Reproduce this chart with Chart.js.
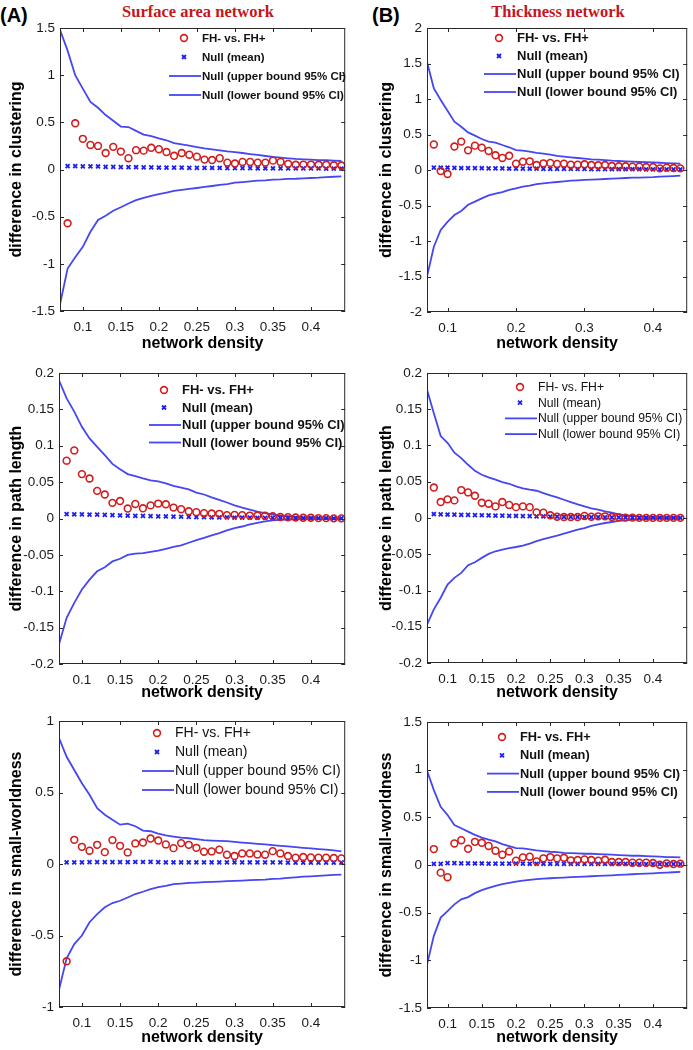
<!DOCTYPE html>
<html lang="en">
<head>
<meta charset="UTF-8" />
<title>Network metric differences vs. density</title>
<script src="https://cdn.jsdelivr.net/npm/chart.js"></script>
<style>
  body { margin: 0; background: #fff; }
  #fig { position: relative; width: 693px; height: 1050px; overflow: hidden; background: #fff; }
  .cv { position: absolute; }
  .tag { position: absolute; top: 3px; font: bold 20px "Liberation Sans", Arial, sans-serif; line-height: 24px; color: #000; }
  .head { position: absolute; top: 0; width: 220px; text-align: center; font: bold 16.5px "Liberation Serif", serif; line-height: 24px; color: #c4161c; }
</style>
</head>
<body>
<div id="fig">
  <div class="tag" style="left:0">(A)</div>
  <div class="tag" style="left:372px">(B)</div>
  <div class="head" style="left:88px">Surface area network</div>
  <div class="head" style="left:448px">Thickness network</div>
</div>
<script>
// x values (network density); index 0 (0.07) only carries the CI lines
const density = [0.07, 0.08, 0.09, 0.10, 0.11, 0.12, 0.13, 0.14, 0.15, 0.16, 0.17, 0.18, 0.19, 0.20, 0.21, 0.22, 0.23, 0.24, 0.25,
  0.26, 0.27, 0.28, 0.29, 0.30, 0.31, 0.32, 0.33, 0.34, 0.35, 0.36, 0.37, 0.38, 0.39, 0.40, 0.41, 0.42, 0.43, 0.44];

const seriesLabels = ['FH- vs. FH+', 'Null (mean)', 'Null (upper bound 95% CI)', 'Null (lower bound 95% CI)'];

const xTicksFine = [0.1, 0.15, 0.2, 0.25, 0.3, 0.35, 0.4];
const xTicksCoarse = [0.1, 0.2, 0.3, 0.4];
const yTicksClustSA = [-1.5, -1, -0.5, 0, 0.5, 1, 1.5];
const yTicksClustTh = [-2, -1.5, -1, -0.5, 0, 0.5, 1, 1.5, 2];
const yTicksPath = [-0.2, -0.15, -0.1, -0.05, 0, 0.05, 0.1, 0.15, 0.2];
const yTicksSwSA = [-1, -0.5, 0, 0.5, 1];
const yTicksSwTh = [-1.5, -1, -0.5, 0, 0.5, 1, 1.5];

// (A) surface area - clustering
const fhClustSA = [null, -0.57, 0.49, 0.325, 0.26, 0.25, 0.175, 0.24, 0.19, 0.12, 0.205, 0.2, 0.23, 0.215, 0.185, 0.145, 0.175, 0.157, 0.136,
  0.105, 0.1, 0.12, 0.073, 0.063, 0.08, 0.08, 0.073, 0.073, 0.094, 0.08, 0.06, 0.05, 0.052, 0.052, 0.05, 0.05, 0.045, 0.042];
const meanClustSA = [null, 0.035, 0.035, 0.034, 0.033, 0.032, 0.028, 0.027, 0.026, 0.025, 0.024, 0.023, 0.022, 0.021, 0.02, 0.02, 0.019, 0.018, 0.018,
  0.017, 0.016, 0.016, 0.015, 0.015, 0.014, 0.014, 0.013, 0.013, 0.013, 0.012, 0.012, 0.012, 0.011, 0.011, 0.011, 0.01, 0.01, 0.01];
const upClustSA = [1.48, 1.26, 1.0, 0.857, 0.717, 0.654, 0.577, 0.517, 0.455, 0.45, 0.41, 0.37, 0.353, 0.33, 0.31, 0.28, 0.266, 0.252, 0.238,
  0.224, 0.213, 0.203, 0.192, 0.185, 0.175, 0.164, 0.154, 0.143, 0.133, 0.126, 0.119, 0.112, 0.108, 0.105, 0.1, 0.098, 0.094, 0.09];
const loClustSA = [-1.43, -1.05, -0.93, -0.82, -0.66, -0.535, -0.49, -0.437, -0.4, -0.36, -0.325, -0.3, -0.28, -0.262, -0.245, -0.227, -0.217, -0.206, -0.196,
  -0.185, -0.175, -0.164, -0.154, -0.14, -0.133, -0.126, -0.119, -0.115, -0.108, -0.105, -0.1, -0.098, -0.094, -0.09, -0.087, -0.08, -0.077, -0.073];

// (B) thickness - clustering
const fhClustTh = [null, 0.36, -0.015, -0.056, 0.33, 0.4, 0.277, 0.343, 0.315, 0.268, 0.207, 0.17, 0.2, 0.09, 0.117, 0.122, 0.07, 0.094, 0.1,
  0.085, 0.09, 0.075, 0.075, 0.08, 0.07, 0.066, 0.07, 0.056, 0.052, 0.052, 0.047, 0.047, 0.042, 0.042, 0.023, 0.033, 0.028, 0.023];
const meanClustTh = [null, 0.033, 0.033, 0.035, 0.03, 0.028, 0.027, 0.026, 0.025, 0.024, 0.023, 0.022, 0.021, 0.02, 0.019, 0.018, 0.018, 0.017, 0.016,
  0.016, 0.015, 0.015, 0.014, 0.014, 0.013, 0.013, 0.012, 0.012, 0.012, 0.011, 0.011, 0.011, 0.01, 0.01, 0.01, 0.01, 0.009, 0.009];
const upClustTh = [1.52, 1.15, 0.986, 0.836, 0.68, 0.61, 0.53, 0.484, 0.437, 0.4, 0.385, 0.352, 0.32, 0.28, 0.272, 0.258, 0.24, 0.23, 0.216,
  0.2, 0.188, 0.178, 0.169, 0.16, 0.15, 0.145, 0.14, 0.131, 0.127, 0.122, 0.117, 0.113, 0.11, 0.106, 0.102, 0.098, 0.094, 0.09];
const loClustTh = [-1.5, -1.08, -0.845, -0.73, -0.634, -0.577, -0.49, -0.446, -0.4, -0.357, -0.333, -0.31, -0.28, -0.258, -0.235, -0.22, -0.2, -0.188, -0.178,
  -0.169, -0.16, -0.15, -0.146, -0.14, -0.136, -0.131, -0.127, -0.122, -0.117, -0.113, -0.108, -0.106, -0.103, -0.1, -0.094, -0.09, -0.085, -0.08];

// (A) surface area - path length
const fhPathSA = [null, 0.0795, 0.0936, 0.061, 0.055, 0.038, 0.033, 0.0215, 0.024, 0.0137, 0.02, 0.014, 0.018, 0.0205, 0.0196, 0.015, 0.0128, 0.01, 0.0087,
  0.0073, 0.0068, 0.0064, 0.0046, 0.005, 0.0046, 0.004, 0.004, 0.0037, 0.003, 0.002, 0.0018, 0.0014, 0.001, 0.001, 0.0005, 0.0005, 0.0002, 0.0002];
const meanPathSA = [null, 0.006, 0.0058, 0.0056, 0.0054, 0.0052, 0.005, 0.0046, 0.0043, 0.004, 0.0037, 0.0035, 0.0032, 0.003, 0.0028, 0.0026, 0.0024, 0.0022, 0.002,
  0.0018, 0.0017, 0.0015, 0.0014, 0.0013, 0.0012, 0.0011, 0.001, 0.0009, 0.0008, 0.0007, 0.0006, 0.0006, 0.0005, 0.0005, 0.0004, 0.0004, 0.0003, 0.0003];
const upPathSA = [0.19, 0.165, 0.147, 0.126, 0.11, 0.0986, 0.087, 0.075, 0.0676, 0.061, 0.0584, 0.0553, 0.0525, 0.051, 0.0484, 0.045, 0.0425, 0.04, 0.0356,
  0.033, 0.029, 0.0256, 0.022, 0.018, 0.015, 0.0123, 0.0096, 0.0073, 0.0055, 0.004, 0.0032, 0.0023, 0.0014, 0.001, 0.0005, 0.0005, 0.0004, 0.0004];
const loPathSA = [-0.173, -0.1365, -0.116, -0.0977, -0.084, -0.0726, -0.067, -0.059, -0.0553, -0.05, -0.0484, -0.0475, -0.046, -0.0443, -0.0416, -0.039, -0.037, -0.0333, -0.0297,
  -0.0265, -0.0233, -0.02, -0.0164, -0.0132, -0.011, -0.0082, -0.006, -0.0041, -0.0027, -0.0018, -0.0014, -0.0009, -0.0006, -0.0005, -0.0005, -0.0004, -0.0004, -0.0004];

// (B) thickness - path length
const fhPathTh = [null, 0.042, 0.022, 0.0257, 0.0243, 0.0385, 0.0353, 0.0307, 0.021, 0.0197, 0.016, 0.022, 0.018, 0.015, 0.016, 0.015, 0.0078, 0.0073, 0.0037,
  0.0018, 0.0014, 0.0014, 0.0014, 0.0028, 0.0018, 0.0023, 0.0023, 0.0014, 0.001, 0.0005, 0.0005, 0.0002, 0.0002, 0.0002, 0.0002, 0.0002, 0.0002, 0.0002];
const meanPathTh = [null, 0.0055, 0.005, 0.0048, 0.0046, 0.0044, 0.0042, 0.004, 0.0038, 0.0036, 0.0034, 0.0032, 0.003, 0.0028, 0.0026, 0.0025, 0.0023, 0.0022, 0.002,
  0.0018, 0.0017, 0.0015, 0.0014, 0.0013, 0.0012, 0.0011, 0.001, 0.0009, 0.0008, 0.0007, 0.0006, 0.0005, 0.0005, 0.0004, 0.0004, 0.0003, 0.0003, 0.0002];
const upPathTh = [0.177, 0.1445, 0.113, 0.1037, 0.09, 0.0826, 0.0734, 0.065, 0.0596, 0.056, 0.0528, 0.0495, 0.0472, 0.0436, 0.0408, 0.039, 0.0376, 0.0344, 0.0312,
  0.0284, 0.0252, 0.022, 0.0188, 0.016, 0.0133, 0.0115, 0.0092, 0.0073, 0.005, 0.0037, 0.0028, 0.0018, 0.0014, 0.001, 0.0008, 0.0008, 0.0007, 0.0007];
const loPathTh = [-0.147, -0.126, -0.11, -0.0917, -0.0826, -0.0757, -0.065, -0.061, -0.055, -0.0495, -0.0459, -0.0436, -0.0417, -0.04, -0.038, -0.0353, -0.032, -0.029, -0.0266,
  -0.0243, -0.0216, -0.0188, -0.016, -0.0138, -0.011, -0.0087, -0.0069, -0.0055, -0.0041, -0.0032, -0.0023, -0.0018, -0.0014, -0.0009, -0.0009, -0.0008, -0.0008, -0.0007];

// (A) surface area - small-worldness
const fhSwSA = [null, -0.68, 0.169, 0.12, 0.093, 0.134, 0.083, 0.167, 0.127, 0.081, 0.144, 0.15, 0.178, 0.164, 0.137, 0.111, 0.146, 0.134, 0.113,
  0.086, 0.088, 0.1, 0.065, 0.056, 0.074, 0.074, 0.067, 0.065, 0.09, 0.074, 0.056, 0.044, 0.049, 0.046, 0.044, 0.044, 0.042, 0.039];
const meanSwSA = [null, 0.012, 0.012, 0.012, 0.013, 0.013, 0.013, 0.013, 0.013, 0.013, 0.014, 0.014, 0.015, 0.013, 0.012, 0.012, 0.012, 0.012, 0.012,
  0.012, 0.012, 0.012, 0.011, 0.011, 0.011, 0.011, 0.011, 0.011, 0.011, 0.011, 0.01, 0.01, 0.01, 0.01, 0.01, 0.01, 0.01, 0.01];
const upSwSA = [0.88, 0.75, 0.657, 0.565, 0.484, 0.39, 0.345, 0.31, 0.275, 0.282, 0.264, 0.234, 0.229, 0.213, 0.2, 0.192, 0.185, 0.18, 0.174,
  0.167, 0.164, 0.162, 0.16, 0.155, 0.15, 0.146, 0.141, 0.137, 0.132, 0.127, 0.123, 0.118, 0.113, 0.109, 0.104, 0.1, 0.095, 0.088];
const loSwSA = [-0.88, -0.66, -0.56, -0.5, -0.407, -0.35, -0.303, -0.273, -0.257, -0.234, -0.21, -0.194, -0.176, -0.162, -0.153, -0.141, -0.137, -0.132, -0.13,
  -0.127, -0.125, -0.123, -0.12, -0.118, -0.116, -0.113, -0.111, -0.109, -0.104, -0.102, -0.097, -0.093, -0.088, -0.086, -0.083, -0.079, -0.076, -0.074];

// (B) thickness - small-worldness
const fhSwTh = [null, 0.167, -0.08, -0.128, 0.226, 0.26, 0.17, 0.243, 0.233, 0.2, 0.15, 0.108, 0.142, 0.045, 0.08, 0.087, 0.038, 0.07, 0.083,
  0.07, 0.076, 0.049, 0.052, 0.059, 0.052, 0.045, 0.055, 0.031, 0.031, 0.031, 0.024, 0.024, 0.024, 0.021, 0.003, 0.017, 0.01, 0.014];
const meanSwTh = [null, 0.012, 0.012, 0.02, 0.02, 0.018, 0.017, 0.016, 0.016, 0.015, 0.015, 0.015, 0.014, 0.014, 0.014, 0.013, 0.013, 0.013, 0.013,
  0.012, 0.012, 0.012, 0.012, 0.012, 0.011, 0.011, 0.011, 0.011, 0.011, 0.011, 0.01, 0.01, 0.01, 0.01, 0.01, 0.01, 0.01, 0.01];
const upSwTh = [0.99, 0.785, 0.61, 0.524, 0.42, 0.385, 0.35, 0.316, 0.288, 0.267, 0.247, 0.219, 0.198, 0.177, 0.174, 0.163, 0.153, 0.146, 0.139,
  0.135, 0.128, 0.125, 0.122, 0.118, 0.118, 0.115, 0.111, 0.108, 0.104, 0.1, 0.097, 0.097, 0.094, 0.09, 0.087, 0.083, 0.083, 0.08];
const loSwTh = [-1.045, -0.743, -0.552, -0.483, -0.413, -0.36, -0.337, -0.295, -0.264, -0.24, -0.219, -0.2, -0.187, -0.174, -0.163, -0.156, -0.149, -0.142, -0.139,
  -0.135, -0.132, -0.128, -0.125, -0.122, -0.118, -0.115, -0.111, -0.108, -0.104, -0.1, -0.097, -0.094, -0.09, -0.087, -0.083, -0.08, -0.076, -0.073];

const RED = '#d21d1d';
const LINE_BLUE = '#4646f2';
const MARK_BLUE = '#1e1ef0';
const FONT = '"Liberation Sans", Arial, sans-serif';

// canvas boxes and plot-area insets (px) for each panel
const panels = [
  { box: [0, 0, 351, 353], inset: { left: 60, top: 28, right: 2, bottom: 42 }, xMax: 0.445, xTitlePad: 0.4, yTitlePad: 7,
    fh: fhClustSA, mean: meanClustSA, up: upClustSA, lo: loClustSA, xTicks: xTicksFine, yTicks: yTicksClustSA,
    yTitle: 'difference in clustering', legend: { x: 142, y: 10, dy: 19, size: 11.5, bold: true } },
  { box: [351, 0, 342, 353], inset: { left: 76, top: 28, right: 1, bottom: 41 }, xMax: 0.45, xTitlePad: 0.4, yTitlePad: 26,
    fh: fhClustTh, mean: meanClustTh, up: upClustTh, lo: loClustTh, xTicks: xTicksCoarse, yTicks: yTicksClustTh,
    yTitle: 'difference in clustering', legend: { x: 90, y: 10, dy: 18, size: 13, bold: true } },
  { box: [0, 353, 351, 349], inset: { left: 59, top: 20, right: 2, bottom: 38 }, xMax: 0.445, xTitlePad: 2.4, yTitlePad: 7,
    fh: fhPathSA, mean: meanPathSA, up: upPathSA, lo: loPathSA, xTicks: xTicksFine, yTicks: yTicksPath,
    yTitle: 'difference in path length', legend: { x: 123, y: 17, dy: 17.5, size: 13, bold: true } },
  { box: [351, 353, 342, 349], inset: { left: 76, top: 20, right: 1, bottom: 39 }, xMax: 0.45, xTitlePad: 2.4, yTitlePad: 26,
    fh: fhPathTh, mean: meanPathTh, up: upPathTh, lo: loPathTh, xTicks: xTicksFine, yTicks: yTicksPath,
    yTitle: 'difference in path length', legend: { x: 111, y: 14, dy: 15.7, size: 12.2, bold: false } },
  { box: [0, 702, 351, 345], inset: { left: 59, top: 19, right: 2, bottom: 40 }, xMax: 0.445, xTitlePad: 2.4, yTitlePad: 7,
    fh: fhSwSA, mean: meanSwSA, up: upSwSA, lo: loSwSA, xTicks: xTicksFine, yTicks: yTicksSwSA,
    yTitle: 'difference in small-worldness', legend: { x: 116, y: 12, dy: 19, size: 14, bold: false } },
  { box: [351, 702, 342, 345], inset: { left: 76, top: 20, right: 1, bottom: 39 }, xMax: 0.45, xTitlePad: 2.4, yTitlePad: 26,
    fh: fhSwTh, mean: meanSwTh, up: upSwTh, lo: loSwTh, xTicks: xTicksFine, yTicks: yTicksSwTh,
    yTitle: 'difference in small-worldness', legend: { x: 93, y: 15, dy: 18.3, size: 12.8, bold: true } },
];

const pts = arr => density.map((d, i) => ({ x: d, y: arr[i] }));

// MATLAB-style box, inward ticks on all sides, and the in-axes legend
const axesPlugin = {
  id: 'matlabAxes',
  afterDatasetsDraw(chart) {
    const { ctx, chartArea: { left, top, right, bottom }, scales: { x, y } } = chart;
    const p = chart.options.plugins.matlabAxes;
    ctx.save();
    ctx.strokeStyle = '#2a2a2a';
    ctx.lineWidth = 1;
    ctx.strokeRect(left + 0.5, top + 0.5, right - left - 1, bottom - top - 1);
    ctx.beginPath();
    p.xTicks.forEach(v => {
      const px = Math.round(x.getPixelForValue(v)) + 0.5;
      ctx.moveTo(px, bottom); ctx.lineTo(px, bottom - 4);
      ctx.moveTo(px, top); ctx.lineTo(px, top + 4);
    });
    p.yTicks.forEach(v => {
      const py = Math.round(y.getPixelForValue(v)) + 0.5;
      ctx.moveTo(left, py); ctx.lineTo(left + 4, py);
      ctx.moveTo(right, py); ctx.lineTo(right - 4, py);
    });
    ctx.stroke();

    const lg = p.legend;
    const tx = left + lg.x;
    ctx.font = (lg.bold ? 'bold ' : '') + lg.size + 'px ' + FONT;
    ctx.textBaseline = 'middle';
    ctx.textAlign = 'left';
    seriesLabels.forEach((label, i) => {
      const ly = top + lg.y + i * lg.dy;
      if (i === 0) {
        ctx.strokeStyle = RED; ctx.lineWidth = 1.6;
        ctx.beginPath(); ctx.arc(tx - 18, ly, 3.4, 0, Math.PI * 2); ctx.stroke();
      } else if (i === 1) {
        ctx.strokeStyle = MARK_BLUE; ctx.lineWidth = 1.8;
        ctx.beginPath();
        ctx.moveTo(tx - 20, ly - 2); ctx.lineTo(tx - 16, ly + 2);
        ctx.moveTo(tx - 20, ly + 2); ctx.lineTo(tx - 16, ly - 2);
        ctx.stroke();
      } else {
        ctx.strokeStyle = LINE_BLUE; ctx.lineWidth = 1.8;
        ctx.beginPath(); ctx.moveTo(tx - 33, ly); ctx.lineTo(tx - 1, ly); ctx.stroke();
      }
      ctx.fillStyle = '#111';
      ctx.fillText(label, tx, ly + 0.5);
    });
    ctx.restore();
  }
};

const fig = document.getElementById('fig');

panels.forEach(p => {
  const [bx, by, bw, bh] = p.box;
  const canvas = document.createElement('canvas');
  canvas.className = 'cv';
  canvas.width = bw;
  canvas.height = bh;
  canvas.style.left = bx + 'px';
  canvas.style.top = by + 'px';
  fig.appendChild(canvas);

  new Chart(canvas.getContext('2d'), {
    type: 'line',
    data: {
      datasets: [
        { label: seriesLabels[0], data: pts(p.fh), showLine: false, pointStyle: 'circle', pointRadius: 3.4,
          pointBorderWidth: 1.6, pointBorderColor: RED, pointBackgroundColor: 'rgba(0,0,0,0)', borderColor: RED },
        { label: seriesLabels[1], data: pts(p.mean), showLine: false, pointStyle: 'crossRot', pointRadius: 2.8,
          pointBorderWidth: 1.8, pointBorderColor: MARK_BLUE, borderColor: MARK_BLUE },
        { label: seriesLabels[2], data: pts(p.up), borderColor: LINE_BLUE, borderWidth: 1.8, pointRadius: 0, tension: 0, fill: false },
        { label: seriesLabels[3], data: pts(p.lo), borderColor: LINE_BLUE, borderWidth: 1.8, pointRadius: 0, tension: 0, fill: false },
      ]
    },
    options: {
      responsive: false,
      animation: false,
      events: [],
      layout: { padding: { left: 0, top: p.inset.top, right: p.inset.right, bottom: 0 } },
      scales: {
        x: {
          type: 'linear', min: 0.07, max: p.xMax,
          grid: { display: false, drawTicks: false },
          border: { display: false },
          afterBuildTicks: s => { s.ticks = p.xTicks.map(v => ({ value: v })); },
          afterFit: s => { s.height = p.inset.bottom; },
          ticks: { autoSkip: false, maxRotation: 0, padding: 8, color: '#1a1a1a',
            font: { family: FONT, size: 13.5 }, callback: v => String(v) },
          title: { display: true, text: 'network density', color: '#000',
            font: { family: FONT, size: 16, weight: 'bold' }, padding: { top: p.xTitlePad, bottom: 0 } }
        },
        y: {
          type: 'linear', min: p.yTicks[0], max: p.yTicks[p.yTicks.length - 1],
          grid: { display: false, drawTicks: false },
          border: { display: false },
          afterBuildTicks: s => { s.ticks = p.yTicks.map(v => ({ value: v })); },
          afterFit: s => { s.width = p.inset.left; },
          ticks: { autoSkip: false, padding: 5, color: '#1a1a1a',
            font: { family: FONT, size: 13.5 }, callback: v => String(v) },
          title: { display: true, text: p.yTitle, color: '#000',
            font: { family: FONT, size: 16, weight: 'bold' }, padding: { top: p.yTitlePad, bottom: 0 } }
        }
      },
      plugins: {
        legend: { display: false },
        tooltip: { enabled: false },
        matlabAxes: { xTicks: p.xTicks, yTicks: p.yTicks, legend: p.legend }
      }
    },
    plugins: [axesPlugin]
  });
});
</script>
</body>
</html>
